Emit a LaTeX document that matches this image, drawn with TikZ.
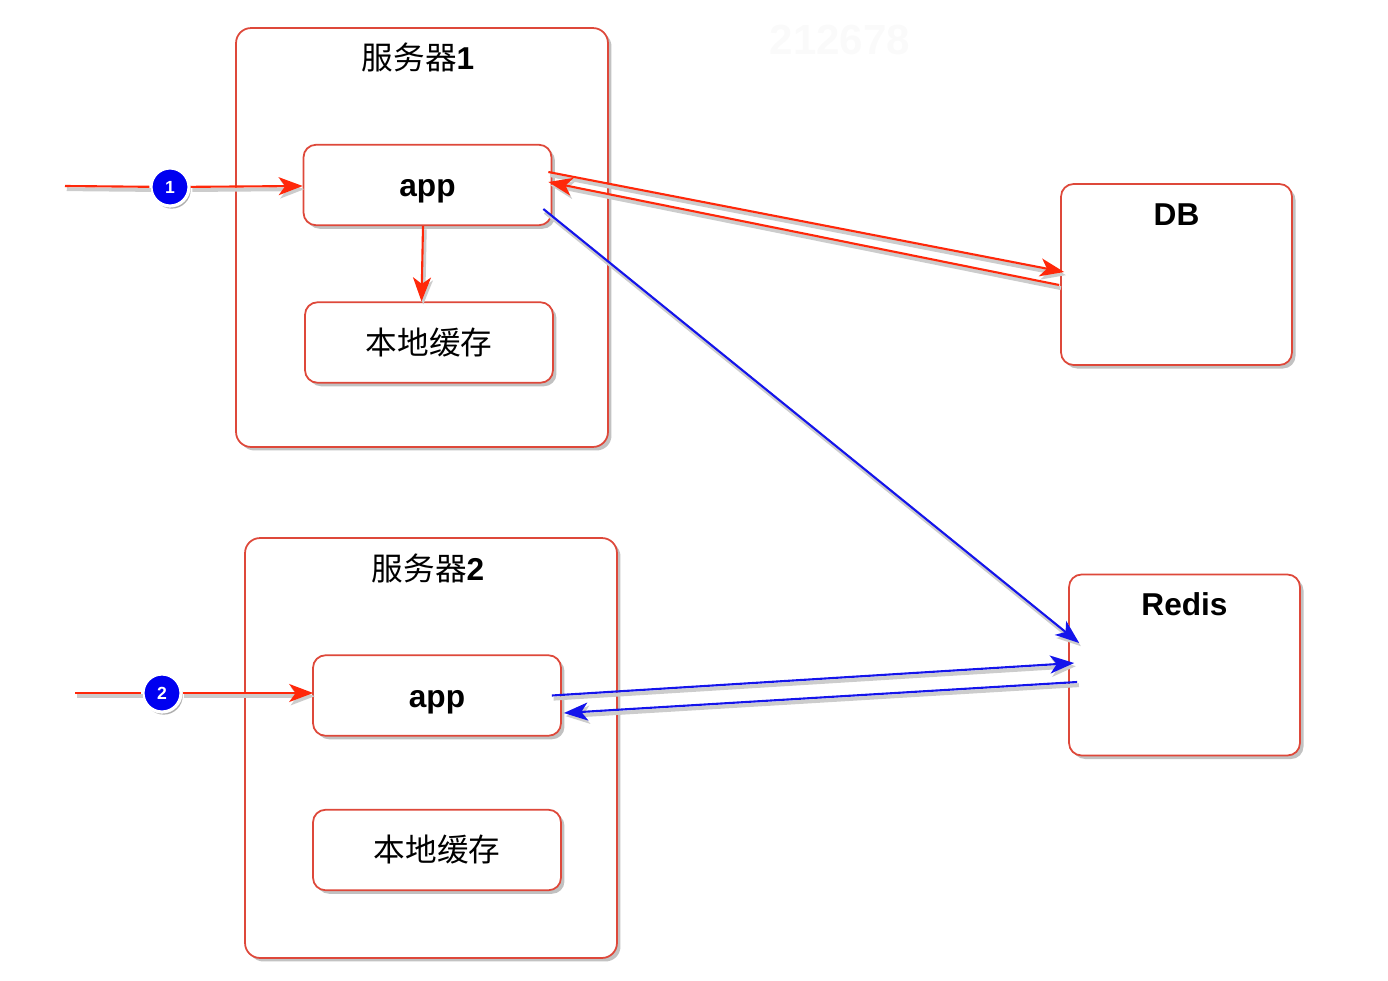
\documentclass[tikz,border=0pt]{standalone}
\usepackage{fontspec}
\setmainfont{Liberation Sans}
\newfontfamily\cjk{Noto Sans CJK SC}
\usetikzlibrary{arrows.meta,shadows,positioning}

\definecolor{boxred}{RGB}{222,72,58}
\definecolor{linkred}{RGB}{255,40,10}
\definecolor{linkblue}{RGB}{20,20,235}
\definecolor{stepblue}{RGB}{0,0,240}

\tikzset{
  boxshade/.style={drop shadow={shadow xshift=2pt,shadow yshift=-2pt,opacity=0.4,fill=black!60}},
  srvbox/.style={draw=boxred,line width=1pt,rounded corners=0.3cm,fill=white,boxshade,
    minimum width=7.44cm,minimum height=8.38cm},
  appbox/.style={draw=boxred,line width=1pt,rounded corners=0.25cm,fill=white,boxshade,
    minimum width=4.96cm,minimum height=1.61cm,inner sep=0pt},
  apptext/.style={font=\bfseries\fontsize{18}{22}\selectfont,text height=0.48cm,text depth=0pt},
  storebox/.style={draw=boxred,line width=1pt,rounded corners=0.25cm,fill=white,boxshade,
    minimum width=4.62cm,minimum height=3.62cm},
  boxtitle/.style={inner sep=0pt},
  stepdot/.style={circle,fill=stepblue,draw=white,line width=1.8pt,text=white,inner sep=0pt,
    minimum size=0.76cm,font=\bfseries\fontsize{10}{10}\selectfont,
    drop shadow={shadow xshift=1pt,shadow yshift=-1.5pt,opacity=0.45,fill=black!70}},
  lineshade/.style={preaction={draw=black!20,line width=2.2pt,transform canvas={shift={(1pt,-1.8pt)}}}},
  redlink/.style={draw=linkred,line width=1.2pt,lineshade},
  bluelink/.style={draw=linkblue,line width=1.2pt,lineshade},
  tip/.style={-{Stealth[length=0.48cm,width=0.36cm,inset=0.13cm]}},
}

\begin{document}
\begin{tikzpicture}[x=0.02cm,y=-0.02cm,font=\fontsize{18}{22}\selectfont]
  \useasboundingbox (0,0) rectangle (1388,980);
  % faint watermark
  \node[text=black!2,font=\bfseries\fontsize{24}{24}\selectfont] (wmark) at (840,40) {212678};

  % servers
  \node[srvbox] (srv1) at (422,237.5) {};
  \node[srvbox,minimum height=8.40cm] (srv2) at (431,748) {};
  \node[boxtitle] (srv1t) at (418,57) {{\cjk 服务器}\textbf{1}};
  \node[boxtitle] (srv2t) at (428,568) {{\cjk 服务器}\textbf{2}};

  \node[appbox,apptext] (app1) at (427.5,185) {app};
  \node[appbox,font=\cjk\fontsize{18}{22}\selectfont] (cache1) at (429,342.5) {本地缓存};
  \node[appbox,apptext] (app2) at (437,695.5) {app};
  \node[appbox,font=\cjk\fontsize{18}{22}\selectfont] (cache2) at (437,850) {本地缓存};

  % stores
  \node[storebox] (db) at (1176.5,274.5) {};
  \node[storebox] (redis) at (1184.5,665) {};
  \node[boxtitle,font=\bfseries\fontsize{18}{22}\selectfont] (dbt) at ([yshift=-0.62cm]db.north) {DB};
  \node[boxtitle,font=\bfseries\fontsize{18}{22}\selectfont] (redist) at ([yshift=-0.62cm]redis.north) {Redis};

  % requests
  \node[stepdot] (step1) at (170,187) {1};
  \node[stepdot] (step2) at (162,693) {2};
  \coordinate (in1) at (65,186);
  \coordinate (in2) at (75,693);
  \draw[redlink] (in1) -- (step1);
  \draw[redlink,tip] (step1) -- ([yshift=-0.02cm]app1.west);
  \draw[redlink] (in2) -- (step2);
  \draw[redlink,tip] (step2) -- ([shift={(1,-2.5)}]app2.west);

  \draw[redlink,tip] ([xshift=-0.09cm]app1.south) -- ([xshift=-0.12cm]app1.south |- cache1.north);

  % app1 <-> DB
  \draw[redlink,tip] ([shift={(-4,-13)}]app1.east) -- ([shift={(4,-2.5)}]db.west);
  \draw[redlink,tip] ([shift={(-1,10.5)}]db.west) -- ([shift={(-4,-3)}]app1.east);

  % app <-> Redis
  \draw[bluelink,tip] ([shift={(-9,24)}]app1.east) -- ([shift={(11,-22)}]redis.west);
  \draw[bluelink,tip] ([shift={(-10,0)}]app2.east) -- ([shift={(6,-2)}]redis.west);
  \draw[bluelink,tip] ([shift={(9,17)}]redis.west) -- ([shift={(2,17.5)}]app2.east);
\end{tikzpicture}
\end{document}
